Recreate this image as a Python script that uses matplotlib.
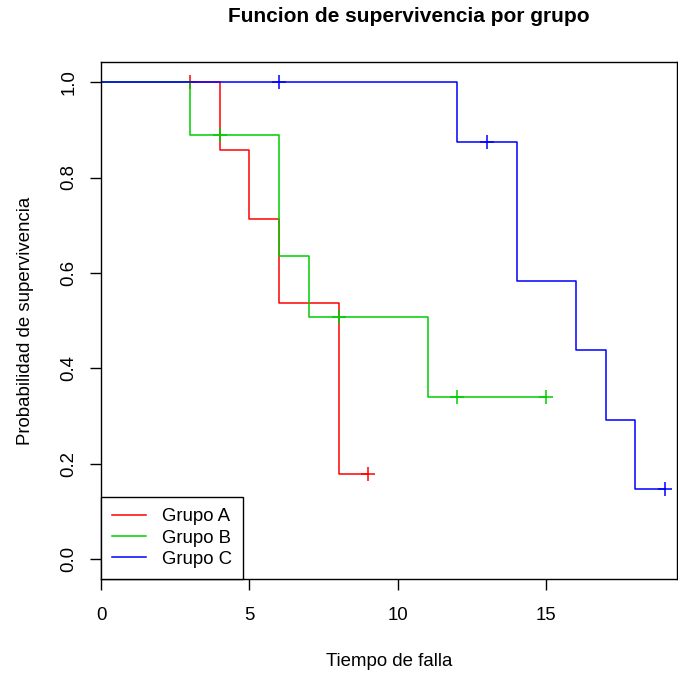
import numpy as np
import matplotlib
matplotlib.use('Agg')
import matplotlib.pyplot as plt
from matplotlib import rcParams

rcParams['font.family'] = ['Liberation Sans', 'DejaVu Sans']
rcParams['font.size'] = 13.4

# Kaplan-Meier steps
times_a = [0, 4, 5, 6, 8, 9]
surv_a = [1.0, 0.857, 0.714, 0.536, 0.179, 0.179]
cens_t_a = [3, 9]
cens_s_a = [1.0, 0.179]

times_b = [0, 3, 6, 7, 11, 15]
surv_b = [1.0, 0.889, 0.635, 0.508, 0.339, 0.339]
cens_t_b = [4, 8, 12, 15]
cens_s_b = [0.889, 0.508, 0.339, 0.339]

times_c = [0, 12, 14, 16, 17, 18, 19]
surv_c = [1.0, 0.875, 0.583, 0.4375, 0.2917, 0.1458, 0.1458]
cens_t_c = [6, 13, 19]
cens_s_c = [1.0, 0.875, 0.1458]

groups = ['Grupo A', 'Grupo B', 'Grupo C']
cols = ['#FF0000', '#00CD00', '#0000FF']

fig = plt.figure(figsize=(6.78, 6.73), dpi=100)
ax = fig.add_axes([0.149, 0.1397, 0.8496, 0.768])

series = [(times_a, surv_a, cens_t_a, cens_s_a),
          (times_b, surv_b, cens_t_b, cens_s_b),
          (times_c, surv_c, cens_t_c, cens_s_c)]
for (t, s, ct, cs), g, c in zip(series, groups, cols):
    ax.step(t, s, where='post', color=c, lw=1.1, label=g)
    ax.plot(ct, cs, '+', color=c, ms=10, mew=1.1)

ax.set_xlim(0, 19.4)
ax.set_ylim(-0.042, 1.042)
ax.set_xticks([0, 5, 10, 15])
ax.set_yticks([0.0, 0.2, 0.4, 0.6, 0.8, 1.0])
ax.set_yticklabels(['0.0', '0.2', '0.4', '0.6', '0.8', '1.0'], rotation=90, va='center')
ax.tick_params(direction='out', length=8, width=1, labelsize=13.4)
ax.tick_params(axis='x', pad=12)
ax.tick_params(axis='y', pad=9)
for sp in ax.spines.values():
    sp.set_linewidth(1)

ax.set_xlabel('Tiempo de falla', labelpad=21)
ax.set_ylabel('Probabilidad de supervivencia', labelpad=19)
fig.text(0.603, 0.975, 'Funcion de supervivencia por grupo', ha='center', va='center',
         fontsize=15, fontweight='bold')

leg = ax.legend(loc='lower left', borderaxespad=0, fancybox=False, edgecolor='black',
                framealpha=1, handlelength=1.8, handletextpad=0.86, labelspacing=0.23,
                borderpad=0.6)
leg.get_frame().set_linewidth(1)

plt.savefig('out.png', dpi=100)
